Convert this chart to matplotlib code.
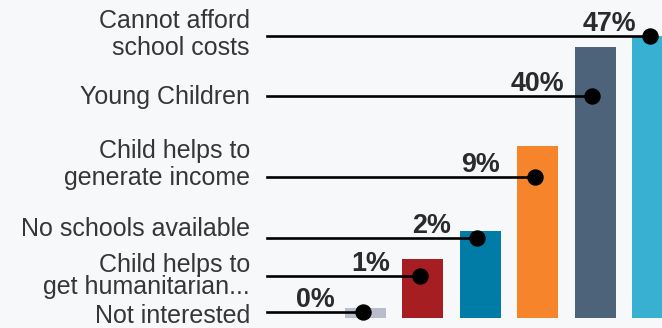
import numpy as np
import matplotlib
matplotlib.use("Agg")
import matplotlib.pyplot as plt
from matplotlib.lines import Line2D
from matplotlib.transforms import blended_transform_factory

# ─── Data (bottom bar first) ───
categories = [
    "Not interested",
    "Child helps to\nget humanitarian...",
    "No schools available",
    "Child helps to\ngenerate income",
    "Young Children",
    "Cannot afford\nschool costs",
]
values = [0, 1, 2, 9, 40, 47]
value_labels = ["0%", "1%", "2%", "9%", "40%", "47%"]
bar_colors = ["#b8bccb", "#a61e22", "#007ca6", "#f5842b", "#4d6379", "#37b0d1"]

# ─── Layout (pixels, measured from the top-left corner) ───
W, H = 662, 328
BG = "#f7f8fa"
BAR_PITCH = 57.4
FIRST_CENTER = 365.5
BASE_Y, TOP_Y = 318, 36
LINE_X0 = 267
LABEL_X = 250
DOT_SHIFT = -0.05                                # dots sit slightly left of bar centre
line_y = [312, 276, 238, 177, 96, 36]            # leader line / dot heights
label_base = [323, 294, 236, 185, 104, 55]       # last-line baselines of category labels
label_ls = [1.0, 0.92, 1.0, 1.14, 1.0, 1.14]
value_dx = [-47, -49, -46, -54, -55, -40]        # value label centre relative to dot

plt.rcParams["font.family"] = ["Liberation Sans", "DejaVu Sans"]

fig = plt.figure(figsize=(W / 100, H / 100), dpi=100, facecolor=BG)
fy = lambda y: 1 - y / H

ax_left = FIRST_CENTER - BAR_PITCH / 2
ax = fig.add_axes([ax_left / W, (H - BASE_Y) / H, (W - ax_left) / W, (BASE_Y - TOP_Y) / H])
ax.set_facecolor("none")
ax.set_yscale("function", functions=(np.log1p, np.expm1))

# small stub so the 0% bar stays visible
floor = np.expm1(-0.142)
x = np.arange(len(values))
ax.bar(x, np.array(values) - floor, bottom=floor, width=0.714, color=bar_colors, zorder=2)
ax.set_xlim(-0.5, -0.5 + (W - ax_left) / BAR_PITCH)
ax.set_ylim(floor, max(values))
ax.axis("off")

blend = blended_transform_factory(ax.transData, fig.transFigure)
for i in range(len(values)):
    dot_x = i + DOT_SHIFT
    dot_px = ax.transData.transform((dot_x, 1))[0]
    fig.add_artist(Line2D([LINE_X0 / W, dot_px / W], [fy(line_y[i])] * 2,
                          transform=fig.transFigure, color="black", lw=1.9, zorder=3))
    ax.plot([dot_x], [fy(line_y[i])], "o", transform=blend, clip_on=False,
            ms=10.8, color="black", zorder=5)
    fig.text((dot_px + value_dx[i]) / W, fy(line_y[i] - 5), value_labels[i],
             ha="center", va="baseline", fontsize=19.4, fontweight="bold", color="#2b2b2b")
    fig.text(LABEL_X / W, fy(label_base[i]), categories[i], ha="right", va="baseline",
             fontsize=18, color="#363636", linespacing=label_ls[i])

fig.savefig("out.png", dpi=100, facecolor=BG)
